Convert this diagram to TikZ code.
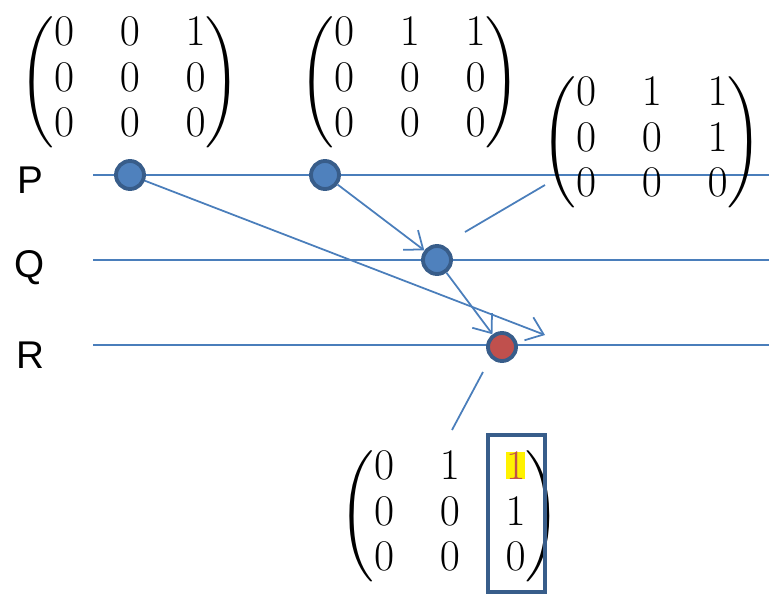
\documentclass[tikz,border=0pt]{standalone}
\usepackage{amsmath}
\usepackage{fontspec}
\newfontfamily\labfont{Liberation Sans}
\usetikzlibrary{arrows.meta}
\definecolor{ln}{HTML}{4A7EBB}
\definecolor{nb}{HTML}{4F81BD}
\definecolor{nd}{HTML}{385D8A}
\definecolor{nr}{HTML}{C0504D}
\tikzset{
  tl/.style={draw=ln,line width=1pt},
  ar/.style={tl,-{Straight Barb[length=9pt,width=14pt]}},
  ev/.style={circle,minimum size=0.56cm,inner sep=0,fill=nb,draw=nd,line width=2.2pt},
  mat/.style={inner sep=0,font=\fontsize{24}{26}\selectfont},
  lab/.style={font=\labfont\fontsize{22}{26}\selectfont}
}
\newcommand{\mymat}[1]{$\setlength{\arraycolsep}{13pt}\begin{pmatrix}#1\end{pmatrix}$}
\begin{document}
\begin{tikzpicture}[x=0.02cm,y=-0.02cm]
\useasboundingbox (0,0) rectangle (769,599);
\node[lab] (lp) at (30,180) {P};
\node[lab] (lq) at (30,268) {Q};
\node[lab] (lr) at (30,355) {R};
\coordinate (ps) at (93,175); \coordinate (pe) at (769,175);
\coordinate (qs) at (93,260); \coordinate (qe) at (769,260);
\coordinate (rs) at (93,345); \coordinate (re) at (769,345);
\draw[tl] (ps)--(pe); \draw[tl] (qs)--(qe); \draw[tl] (rs)--(re);
\node[mat] (m1) at (130,82) {\mymat{0&0&1\\0&0&0\\0&0&0}};
\node[mat] (m2) at (410,82) {\mymat{0&1&1\\0&0&0\\0&0&0}};
\node[mat] (m3) at (652,142) {\mymat{0&1&1\\0&0&1\\0&0&0}};
\node[mat] (m4) at (450,516) {\setlength{\fboxsep}{0pt}\mymat{0&1&\colorbox{yellow}{\color{nr}1}\\0&0&1\\0&0&0}};
\draw[nd,line width=2.5pt] (488,435) rectangle (545,592);
\node[ev] (p1) at (130,175) {};
\node[ev] (p2) at (325,175) {};
\node[ev] (q1) at (437,260) {};
\node[ev,fill=nr] (r1) at (502,347) {};
\coordinate (rt) at (545,335);
\draw[ar] (p1)--(rt);
\draw[ar] (p2)--(q1);
\draw[ar] (q1)--(r1);
\coordinate (c1) at (465,232); \coordinate (c2) at (545,185);
\draw[tl] (c1)--(c2);
\coordinate (c3) at (483,372); \coordinate (c4) at (452,430);
\draw[tl] (c3)--(c4);
\end{tikzpicture}
\end{document}
